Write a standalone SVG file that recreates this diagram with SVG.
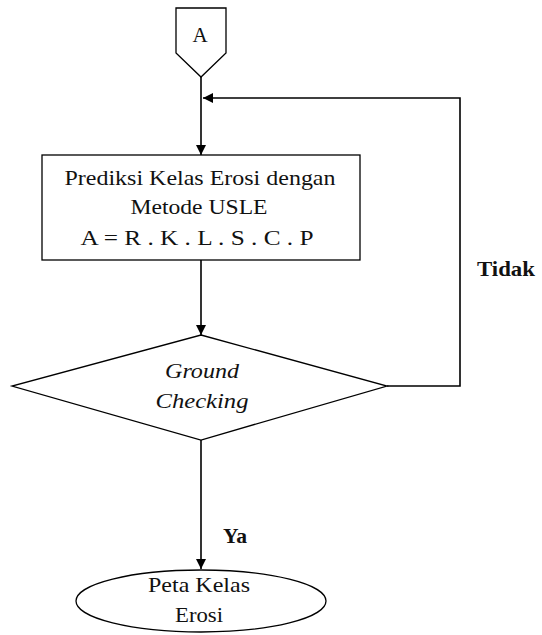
<svg xmlns="http://www.w3.org/2000/svg" width="542" height="635" viewBox="0 0 542 635">
<defs>
<marker id="arr" viewBox="0 0 10 10" refX="10" refY="5" markerWidth="10" markerHeight="10" markerUnits="userSpaceOnUse" orient="auto">
<path d="M0,0 L10,5 L0,10 Z" fill="#000"/>
</marker>
</defs>
<style>
.shape{fill:#fff;stroke:#000;stroke-width:1.3}
.line{fill:none;stroke:#000;stroke-width:1.6}
.t{font-family:"Liberation Serif","Times New Roman",serif;font-size:21px;fill:#111;text-anchor:middle}
.it{font-style:italic}
.b{font-weight:bold}
</style>
<rect width="542" height="635" fill="#fff"/>
<g id="connectors">
<line class="line" x1="201" y1="77" x2="201" y2="155" marker-end="url(#arr)"/>
<line class="line" x1="201" y1="260" x2="201" y2="335" marker-end="url(#arr)"/>
<polyline class="line" points="387,386 460,386 460,98 203,98" marker-end="url(#arr)"/>
<line class="line" x1="201" y1="440" x2="201" y2="569" marker-end="url(#arr)"/>
<text class="t b" x="506" y="276" textLength="58" lengthAdjust="spacingAndGlyphs">Tidak</text>
<text class="t b" x="235" y="543" textLength="24" lengthAdjust="spacingAndGlyphs">Ya</text>
</g>
<g id="start">
<polygon class="shape" points="176,8 226,8 226,53 201,77 176,53"/>
<text class="t" x="200" y="42">A</text>
</g>
<g id="process">
<rect class="shape" x="42" y="155" width="318" height="105"/>
<text class="t" x="200" y="185" textLength="271" lengthAdjust="spacingAndGlyphs">Prediksi Kelas Erosi dengan</text>
<text class="t" x="199" y="214" textLength="137" lengthAdjust="spacingAndGlyphs">Metode USLE</text>
<text class="t" x="197" y="245" textLength="233" lengthAdjust="spacingAndGlyphs">A = R . K . L . S . C . P</text>
</g>
<g id="decision">
<polygon class="shape" points="201,335 387,386 201,440 12,386"/>
<text class="t it" x="202" y="378" textLength="74" lengthAdjust="spacingAndGlyphs">Ground</text>
<text class="t it" x="202" y="408" textLength="93" lengthAdjust="spacingAndGlyphs">Checking</text>
</g>
<g id="end">
<ellipse class="shape" cx="201" cy="601" rx="125" ry="31"/>
<text class="t" x="199" y="592" textLength="102" lengthAdjust="spacingAndGlyphs">Peta Kelas</text>
<text class="t" x="199" y="622" textLength="48" lengthAdjust="spacingAndGlyphs">Erosi</text>
</g>
</svg>
